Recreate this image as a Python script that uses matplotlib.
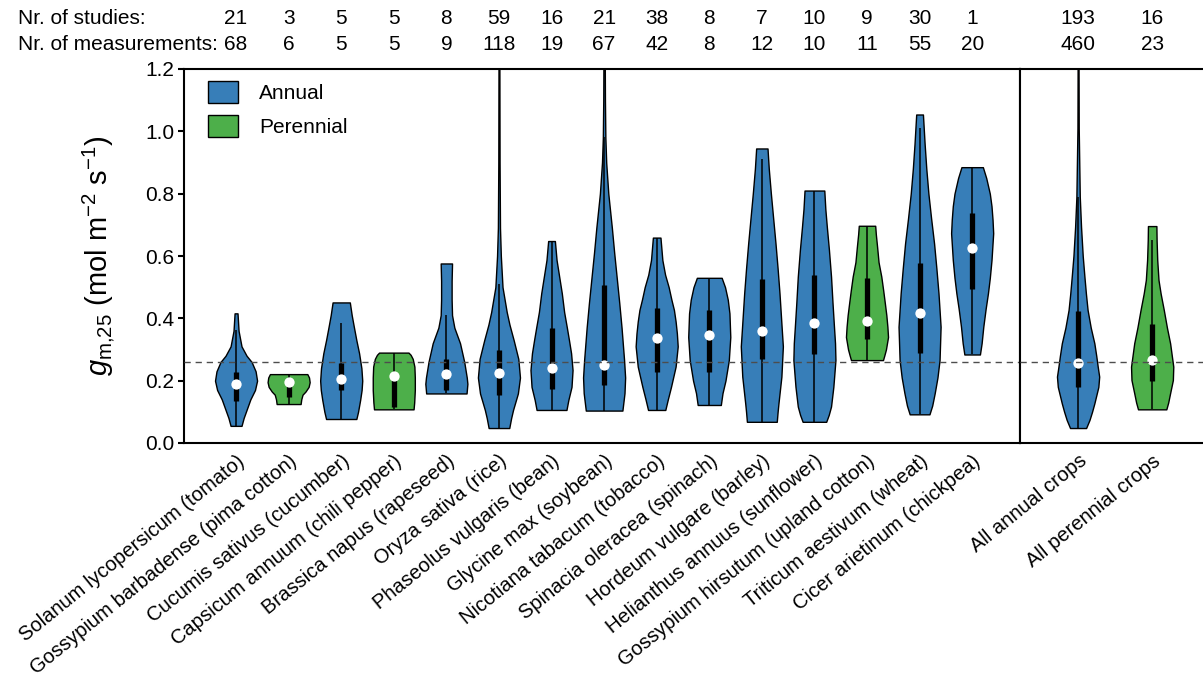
import numpy as np
import matplotlib
matplotlib.use("Agg")
import matplotlib.pyplot as plt
from matplotlib.patches import Patch
from matplotlib import transforms

plt.rcParams['font.family'] = ['Liberation Sans', 'DejaVu Sans']
plt.rcParams['mathtext.fontset'] = 'custom'
plt.rcParams['mathtext.rm'] = 'Liberation Sans'
plt.rcParams['mathtext.it'] = 'Liberation Sans:italic'

# species (left panel) and pooled groups (right panel)
species = ["Solanum lycopersicum (tomato)", "Gossypium barbadense (pima cotton)",
           "Cucumis sativus (cucumber)", "Capsicum annuum (chili pepper)",
           "Brassica napus (rapeseed)", "Oryza sativa (rice)", "Phaseolus vulgaris (bean)",
           "Glycine max (soybean)", "Nicotiana tabacum (tobacco)", "Spinacia oleracea (spinach)",
           "Hordeum vulgare (barley)", "Helianthus annuus (sunflower)",
           "Gossypium hirsutum (upland cotton)", "Triticum aestivum (wheat)",
           "Cicer arietinum (chickpea)"]
groups = ["All annual crops", "All perennial crops"]
labels = species + groups
kind = ["A", "P", "A", "P", "A", "A", "A", "A", "A", "A", "A", "A", "P", "A", "A", "A", "P"]

n_studies = [21, 3, 5, 5, 8, 59, 16, 21, 38, 8, 7, 10, 9, 30, 1, 193, 16]
n_meas = [68, 6, 5, 5, 9, 118, 19, 67, 42, 8, 12, 10, 11, 55, 20, 460, 23]

# box summary: whisker low, q1, median, q3, whisker high
w_lo = [0.055, 0.125, 0.077, 0.108, 0.159, 0.048, 0.106, 0.104, 0.106, 0.122, 0.068, 0.068,
        0.266, 0.092, 0.284, 0.048, 0.108]
q1 = [0.136, 0.148, 0.170, 0.117, 0.170, 0.154, 0.172, 0.186, 0.229, 0.229, 0.268, 0.284,
      0.333, 0.288, 0.493, 0.179, 0.199]
med = [0.190, 0.195, 0.205, 0.216, 0.221, 0.226, 0.240, 0.250, 0.336, 0.347, 0.360, 0.384,
       0.391, 0.416, 0.627, 0.258, 0.266]
q3 = [0.229, 0.205, 0.256, 0.220, 0.268, 0.298, 0.368, 0.506, 0.432, 0.427, 0.525, 0.539,
      0.528, 0.576, 0.737, 0.425, 0.382]
w_hi = [0.363, 0.221, 0.384, 0.290, 0.410, 0.510, 0.648, 0.983, 0.659, 0.530, 0.910, 0.810,
        0.697, 1.010, 0.885, 0.790, 0.651]

# violin outlines: heights and relative half-widths
prof_y = [
    [0.055, 0.08, 0.11, 0.14, 0.17, 0.20, 0.23, 0.26, 0.28, 0.31, 0.36, 0.416],
    [0.125, 0.14, 0.155, 0.165, 0.18, 0.195, 0.21, 0.221],
    [0.077, 0.10, 0.138, 0.17, 0.20, 0.24, 0.288, 0.33, 0.373, 0.41, 0.451],
    [0.108, 0.13, 0.17, 0.21, 0.245, 0.27, 0.283, 0.29],
    [0.159, 0.19, 0.21, 0.26, 0.32, 0.37, 0.41, 0.46, 0.52, 0.576],
    [0.048, 0.08, 0.106, 0.159, 0.21, 0.27, 0.33, 0.38, 0.42, 0.5, 0.6, 0.69, 0.9, 1.25],
    [0.106, 0.138, 0.18, 0.234, 0.288, 0.33, 0.37, 0.42, 0.48, 0.54, 0.587, 0.648],
    [0.104, 0.16, 0.21, 0.266, 0.37, 0.45, 0.53, 0.61, 0.69, 0.8, 0.9, 0.98, 1.1, 1.25],
    [0.106, 0.14, 0.18, 0.245, 0.31, 0.352, 0.39, 0.427, 0.46, 0.5, 0.54, 0.587, 0.659],
    [0.122, 0.16, 0.2, 0.266, 0.34, 0.416, 0.46, 0.5, 0.53],
    [0.068, 0.1, 0.127, 0.213, 0.31, 0.373, 0.48, 0.56, 0.64, 0.72, 0.8, 0.88, 0.945],
    [0.068, 0.09, 0.117, 0.18, 0.266, 0.32, 0.373, 0.45, 0.534, 0.62, 0.694, 0.75, 0.81],
    [0.266, 0.28, 0.3, 0.34, 0.373, 0.41, 0.448, 0.49, 0.534, 0.58, 0.63, 0.67, 0.697],
    [0.092, 0.12, 0.16, 0.21, 0.266, 0.373, 0.48, 0.56, 0.64, 0.72, 0.8, 0.88, 0.96, 1.054],
    [0.284, 0.32, 0.373, 0.43, 0.48, 0.53, 0.587, 0.673, 0.716, 0.76, 0.8, 0.85, 0.885],
    [0.048, 0.074, 0.1, 0.127, 0.18, 0.213, 0.245, 0.28, 0.32, 0.37, 0.427, 0.48, 0.534,
     0.6, 0.694, 0.79, 1.01, 1.25],
    [0.108, 0.13, 0.16, 0.202, 0.245, 0.28, 0.32, 0.37, 0.427, 0.48, 0.523, 0.587, 0.65, 0.696],
]
prof_w = [
    [0.26, 0.36, 0.52, 0.68, 0.90, 1.0, 0.93, 0.74, 0.5, 0.26, 0.12, 0.07],
    [0.57, 0.6, 0.66, 0.8, 0.95, 1.0, 0.97, 0.89],
    [0.72, 0.8, 0.9, 0.97, 1.0, 0.96, 0.85, 0.72, 0.6, 0.5, 0.41],
    [0.94, 0.97, 1.0, 1.0, 0.98, 0.9, 0.8, 0.7],
    [0.96, 1.0, 0.97, 0.85, 0.65, 0.38, 0.27, 0.25, 0.25, 0.27],
    [0.49, 0.58, 0.67, 0.9, 1.0, 0.92, 0.7, 0.5, 0.37, 0.17, 0.09, 0.05, 0.03, 0.02],
    [0.71, 0.8, 0.95, 1.0, 0.93, 0.83, 0.73, 0.6, 0.49, 0.35, 0.24, 0.16],
    [0.87, 0.97, 1.0, 0.95, 0.83, 0.72, 0.6, 0.48, 0.37, 0.2, 0.1, 0.06, 0.04, 0.03],
    [0.41, 0.53, 0.68, 0.9, 1.0, 0.96, 0.9, 0.82, 0.7, 0.57, 0.4, 0.27, 0.18],
    [0.55, 0.63, 0.77, 0.93, 1.0, 0.96, 0.88, 0.75, 0.59],
    [0.71, 0.75, 0.79, 0.93, 1.0, 0.94, 0.84, 0.75, 0.65, 0.54, 0.43, 0.33, 0.27],
    [0.56, 0.68, 0.79, 0.9, 1.0, 0.98, 0.93, 0.86, 0.79, 0.69, 0.59, 0.52, 0.47],
    [0.76, 0.82, 0.9, 1.0, 0.97, 0.92, 0.85, 0.77, 0.68, 0.55, 0.48, 0.42, 0.39],
    [0.47, 0.6, 0.72, 0.85, 0.95, 1.0, 0.9, 0.8, 0.69, 0.55, 0.42, 0.32, 0.24, 0.16],
    [0.37, 0.45, 0.53, 0.64, 0.75, 0.84, 0.92, 1.0, 0.97, 0.92, 0.84, 0.67, 0.51],
    [0.38, 0.54, 0.66, 0.77, 0.96, 1.0, 0.93, 0.86, 0.77, 0.6, 0.45, 0.37, 0.3, 0.22, 0.14,
     0.08, 0.03, 0.02],
    [0.67, 0.76, 0.85, 0.98, 1.0, 0.93, 0.85, 0.7, 0.55, 0.4, 0.3, 0.24, 0.21, 0.2],
]

ref_line = 0.26
colors = {"A": "#377eb8", "P": "#4daf4a"}
FS = 15


def draw_panel(ax, idx, width):
    pos = np.arange(len(idx))
    stats = []
    for i in idx:
        stats.append({"coords": prof_y[i], "vals": prof_w[i], "mean": med[i],
                      "median": med[i], "min": w_lo[i], "max": w_hi[i], "quantiles": []})
    parts = ax.violin(stats, positions=pos, widths=width, showmeans=False,
                      showextrema=False, showmedians=False)
    for body, i in zip(parts["bodies"], idx):
        body.set_facecolor(colors[kind[i]])
        body.set_edgecolor("black")
        body.set_linewidth(1.0)
        body.set_alpha(1)
    ax.vlines(pos, [w_lo[i] for i in idx], [w_hi[i] for i in idx], color="black", lw=1.1, zorder=3)
    ax.vlines(pos, [q1[i] for i in idx], [q3[i] for i in idx], color="black", lw=3.8, zorder=3)
    ax.scatter(pos, [med[i] for i in idx], s=55, color="white", zorder=4, linewidths=0)
    ax.axhline(ref_line, color="#4d4d4d", lw=1.0, ls=(0, (4.5, 3.5)), zorder=5)
    ax.set_ylim(0, 1.2)
    ax.set_xticks(pos)
    ax.set_xticklabels([labels[i] for i in idx], rotation=39, ha="right",
                       rotation_mode="anchor", fontsize=14.5)
    ax.tick_params(axis="x", length=0, pad=6)
    for s in ax.spines.values():
        s.set_linewidth(1.5)
    return pos


W, H = 1203, 684
fig = plt.figure(figsize=(W / 100, H / 100), dpi=100)
ax1 = fig.add_axes([184 / W, 1 - 443 / H, 836 / W, 374 / H])
ax2 = fig.add_axes([1020 / W, 1 - 443 / H, 207 / W, 374 / H])

left_idx = list(range(15))
right_idx = [15, 16]
p1 = draw_panel(ax1, left_idx, 0.8)
p2 = draw_panel(ax2, right_idx, 0.57)
ax1.set_xlim(-0.99, 14.91)
ax2.set_xlim(-0.784, 2.01)

ax1.set_yticks([0.0, 0.2, 0.4, 0.6, 0.8, 1.0, 1.2])
ax1.set_yticklabels(["0.0", "0.2", "0.4", "0.6", "0.8", "1.0", "1.2"])
ax1.tick_params(axis="y", labelsize=FS, length=4, width=1.5, pad=3)
ax2.tick_params(axis="y", left=False, labelleft=False)
ax1.set_ylabel(r"$g_{\mathrm{m{,}25}}$ (mol m$^{-2}$ s$^{-1}$)", fontsize=21, labelpad=20)

handles = [Patch(facecolor=colors["A"], edgecolor="black", label="Annual"),
           Patch(facecolor=colors["P"], edgecolor="black", label="Perennial")]
ax1.legend(handles=handles, loc="upper left", bbox_to_anchor=(0.011, 1.006), frameon=False,
           fontsize=FS, handlelength=1.45, handleheight=1.25, labelspacing=0.55,
           handletextpad=1.0, borderaxespad=0.3)

# study / measurement counts above each violin
fig.text(18 / W, 1 - 18 / H, "Nr. of studies:", fontsize=FS, va="center", ha="left")
fig.text(18 / W, 1 - 44 / H, "Nr. of measurements:", fontsize=FS, va="center", ha="left")
for ax, pos, idx in [(ax1, p1, left_idx), (ax2, p2, right_idx)]:
    tr = transforms.blended_transform_factory(ax.transData, fig.transFigure)
    for x, i in zip(pos, idx):
        ax.text(x, 1 - 18 / H, str(n_studies[i]), transform=tr, ha="center", va="center",
                fontsize=FS, clip_on=False)
        ax.text(x, 1 - 44 / H, str(n_meas[i]), transform=tr, ha="center", va="center",
                fontsize=FS, clip_on=False)

fig.savefig("out.png", dpi=100)
